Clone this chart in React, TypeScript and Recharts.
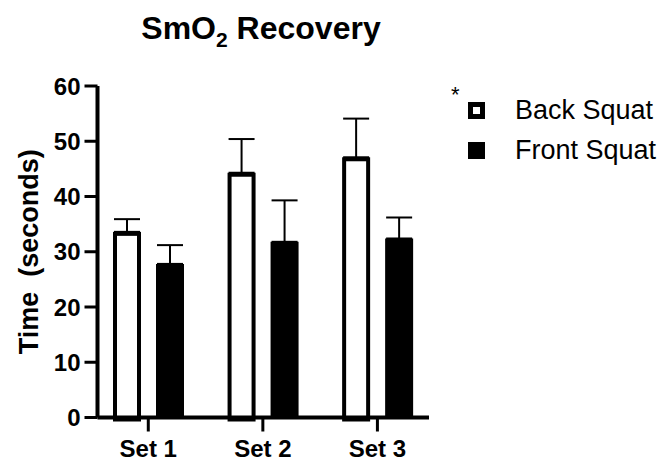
import React from 'react';
import { Bar, BarChart, ErrorBar, XAxis, YAxis } from 'recharts';

const categories = ['Set 1', 'Set 2', 'Set 3'];
const backSquat = [33.6, 44.3, 47.1];
const backSquatSd = [2.3, 6.1, 7.0];
const frontSquat = [27.8, 31.8, 32.4];
const frontSquatSd = [3.4, 7.5, 3.8];
const yTicks = [0, 10, 20, 30, 40, 50, 60];

const FONT = '"Liberation Sans", Arial, sans-serif';

const data = categories.map((name, i) => ({
    name,
    back: backSquat[i],
    backErr: [0, backSquatSd[i]],
    front: frontSquat[i],
    frontErr: [0, frontSquatSd[i]],
}));

// white bar with a thick black outline kept inside the bar bounds (bottom runs into the axis)
const OutlinedBar = (props: any) => {
    const { x, y, width, height } = props;
    const sw = 4;
    return (
        <rect
            x={x + sw / 2}
            y={y + sw / 2}
            width={Math.max(width - sw, 0)}
            height={Math.max(height, 0)}
            fill="#fff"
            stroke="#000"
            strokeWidth={sw}
        />
    );
};

const YLabel = ({ viewBox }: any) => {
    const cx = viewBox.x + 28.5;
    const cy = viewBox.y + viewBox.height / 2;
    return (
        <text
            x={cx}
            y={cy}
            transform={`rotate(-90, ${cx}, ${cy})`}
            textAnchor="middle"
            dominantBaseline="central"
            fontFamily={FONT}
            fontWeight="bold"
            fontSize={27}
            fill="#000"
            style={{ whiteSpace: 'pre' }}
        >
            Time  (seconds)
        </text>
    );
};

export default function App() {
    return (
        <div style={{ position: 'absolute', left: 0, top: 0, width: 667, height: 473, background: '#fff', fontFamily: FONT }}>
            <div
                style={{
                    position: 'absolute',
                    left: 61,
                    top: 12,
                    width: 400,
                    textAlign: 'center',
                    fontSize: 32,
                    lineHeight: '32px',
                    fontWeight: 'bold',
                    color: '#000',
                }}
            >
                SmO<span style={{ fontSize: 21, position: 'relative', top: 8 }}>2</span> Recovery
            </div>

            <BarChart
                width={667}
                height={473}
                data={data}
                margin={{ top: 86, right: 238, bottom: 0, left: 0 }}
                barGap={15}
                barSize={28}
            >
                <Bar dataKey="back" shape={<OutlinedBar />} isAnimationActive={false}>
                    <ErrorBar dataKey="backErr" width={13} stroke="#000" strokeWidth={2} />
                </Bar>
                <Bar dataKey="front" fill="#000" isAnimationActive={false}>
                    <ErrorBar dataKey="frontErr" width={13} stroke="#000" strokeWidth={2} />
                </Bar>
                <YAxis
                    width={97.5}
                    domain={[0, 60]}
                    ticks={yTicks}
                    interval={0}
                    axisLine={{ stroke: '#000', strokeWidth: 4 }}
                    tickLine={{ stroke: '#000', strokeWidth: 3 }}
                    tickSize={13}
                    tickMargin={4}
                    tick={{ fill: '#000', fontSize: 24, fontWeight: 'bold', fontFamily: FONT }}
                    label={<YLabel />}
                />
                <XAxis
                    dataKey="name"
                    height={55.5}
                    padding={{ left: -6.5, right: -5.7 }}
                    axisLine={{ stroke: '#000', strokeWidth: 4 }}
                    tickLine={{ stroke: '#000', strokeWidth: 3 }}
                    tickSize={14}
                    tickMargin={8}
                    tick={{ fill: '#000', fontSize: 24, fontWeight: 'bold', fontFamily: FONT }}
                />
            </BarChart>

            <div style={{ position: 'absolute', left: 451, top: 84, fontSize: 22, lineHeight: '22px', color: '#000' }}>*</div>
            <div style={{ position: 'absolute', left: 468, top: 101.5, color: '#000' }}>
                <div style={{ display: 'flex', alignItems: 'center', height: 17, marginBottom: 23 }}>
                    <div
                        style={{
                            width: 17,
                            height: 17,
                            boxSizing: 'border-box',
                            border: '5px solid #000',
                            background: '#fff',
                            marginRight: 30,
                        }}
                    />
                    <span style={{ fontSize: 27, lineHeight: '17px', whiteSpace: 'nowrap' }}>Back Squat</span>
                </div>
                <div style={{ display: 'flex', alignItems: 'center', height: 17 }}>
                    <div style={{ width: 17, height: 17, background: '#000', marginRight: 30 }} />
                    <span style={{ fontSize: 27, lineHeight: '17px', whiteSpace: 'nowrap' }}>Front Squat</span>
                </div>
            </div>
        </div>
    );
}
